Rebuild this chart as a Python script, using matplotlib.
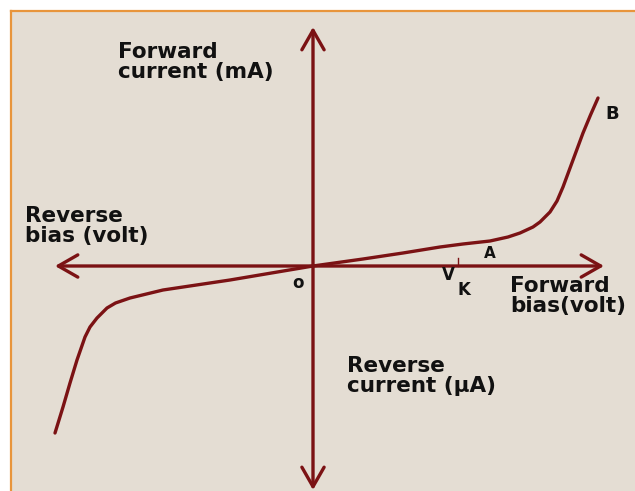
import matplotlib
matplotlib.use("Agg")
import matplotlib.pyplot as plt
from matplotlib.patches import Rectangle
from matplotlib.lines import Line2D

# Forward-bias branch (arbitrary units: volts, mA)
fwd_v = [0.0, 1.0, 1.8, 2.54, 3.0, 3.54, 3.9, 4.14, 4.4, 4.54, 4.74, 4.88, 5.0, 5.2, 5.4, 5.55, 5.7]
fwd_i = [0.0, 0.14, 0.26, 0.38, 0.44, 0.50, 0.58, 0.66, 0.78, 0.88, 1.08, 1.30, 1.58, 2.12, 2.66, 3.02, 3.36]
# Reverse-bias branch
rev_v = [0.0, -1.66, -3.0, -3.66, -3.95, -4.12, -4.32, -4.46, -4.56, -4.72, -4.86, -5.0, -5.16]
rev_i = [0.0, -0.28, -0.48, -0.64, -0.74, -0.84, -1.04, -1.22, -1.42, -1.88, -2.34, -2.82, -3.34]

W, H, DPI = 635, 491, 100
fig = plt.figure(figsize=(W / DPI, H / DPI), dpi=DPI)
fig.patch.set_facecolor("white")

# pixel helpers
def fx(px):
    return px / W
def fy(py):
    return 1 - py / H

beige = "#e4ddd3"
orange = "#e8953c"
fig.patches.append(Rectangle((fx(11), 0), 1 - fx(11), fy(11), transform=fig.transFigure,
                             facecolor=beige, edgecolor="none", zorder=-10))
fig.lines.append(Line2D([fx(11), fx(11)], [0, fy(11)], transform=fig.transFigure, color=orange, lw=1.6, zorder=-5))
fig.lines.append(Line2D([fx(11), 1], [fy(11), fy(11)], transform=fig.transFigure, color=orange, lw=1.6, zorder=-5))

ax = fig.add_axes([0, 0, 1, 1])
ax.set_facecolor("none")
ox, oy, s = 313, 266, 50.0
ax.set_xlim((0 - ox) / s, (W - ox) / s)
ax.set_ylim((oy - H) / s, (oy - 0) / s)
ax.axis("off")

red = "#7b1214"

def P(px, py):
    return ((px - ox) / s, (oy - py) / s)

arrow = dict(arrowstyle="<->,head_length=0.7,head_width=0.4", color=red, lw=2.4,
             mutation_scale=20, shrinkA=0, shrinkB=0)
ax.annotate("", xy=P(55, 266), xytext=P(604, 266), arrowprops=arrow)
ax.annotate("", xy=P(313, 27), xytext=P(313, 490), arrowprops=arrow)

ax.plot(fwd_v, fwd_i, color=red, lw=2.4, solid_capstyle="round", solid_joinstyle="round")
ax.plot(rev_v, rev_i, color=red, lw=2.4, solid_capstyle="round", solid_joinstyle="round")

# V_K tick
vk = P(458, 258)
ax.plot([vk[0], vk[0]], [vk[1], 0], color=red, lw=1.0)

fs = 15.5
tkw = dict(fontsize=fs, fontweight="bold", color="#111111", family="DejaVu Sans", linespacing=1.0)
ax.text(*P(118, 42), "Forward\ncurrent (mA)", ha="left", va="top", **tkw)
ax.text(*P(25, 206), "Reverse\nbias (volt)", ha="left", va="top", **tkw)
ax.text(*P(510, 276), "Forward\nbias(volt)", ha="left", va="top", **tkw)
ax.text(*P(347, 356), "Reverse\ncurrent (μA)", ha="left", va="top", **tkw)
ax.text(*P(298, 283), "o", ha="center", va="center", fontsize=12, fontweight="bold", color="#111111")
ax.text(*P(448, 275), "V", ha="center", va="center", fontsize=12, fontweight="bold", color="#111111")
ax.text(*P(464, 290), "K", ha="center", va="center", fontsize=12, fontweight="bold", color="#111111")
ax.text(*P(490, 253), "A", ha="center", va="center", fontsize=11, fontweight="bold", color="#111111")
ax.text(*P(612, 114), "B", ha="center", va="center", fontsize=13, fontweight="bold", color="#111111")

fig.savefig("out.png", dpi=DPI)
